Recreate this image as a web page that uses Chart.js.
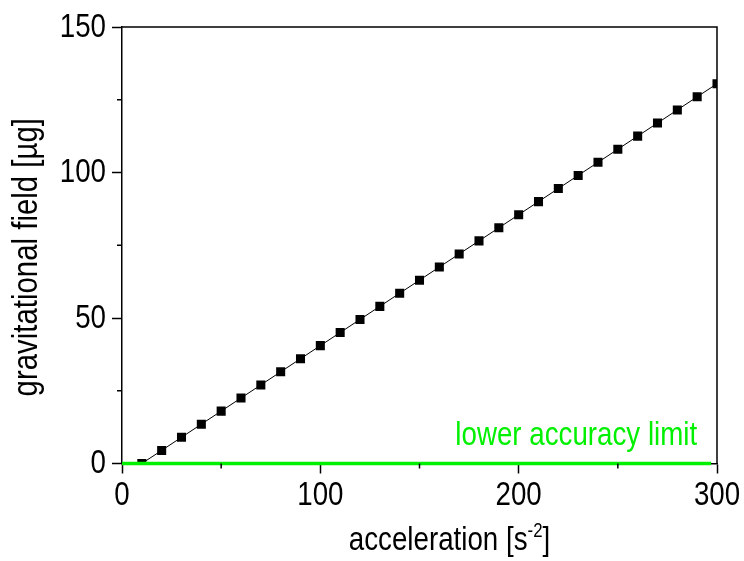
<!DOCTYPE html>
<html>
<head>
<meta charset="utf-8">
<script src="https://cdn.jsdelivr.net/npm/chart.js@4.4.1/dist/chart.umd.min.js"></script>
<style>
  html, body { margin: 0; padding: 0; background: #fff; }
  #wrap { width: 744px; height: 561px; }
</style>
</head>
<body>
<div id="wrap"><canvas id="c" width="744" height="561"></canvas></div>
<script>
// Measured gravitational field versus acceleration
const accel  = [10, 20, 30, 40, 50, 60, 70, 80, 90, 100,
                110, 120, 130, 140, 150, 160, 170, 180, 190, 200,
                210, 220, 230, 240, 250, 260, 270, 280, 290, 300];
const gField = [0, 4.5, 9.0, 13.5, 18.0, 22.5, 27.0, 31.5, 36.0, 40.5,
                45.0, 49.5, 54.0, 58.5, 63.0, 67.5, 72.0, 76.5, 81.0, 85.5,
                90.0, 94.5, 99.0, 103.5, 108.0, 112.5, 117.0, 121.5, 126.0, 130.5];

// Lower accuracy limit (horizontal line)
const limitX = [0, 297];
const limitY = [0, 0];

// Tick values
const xMajor = [0, 100, 200, 300];
const xMinor = [50, 150, 250];
const yMajor = [0, 50, 100, 150];
const yMinor = [25, 75, 125];

const FONT = "'Liberation Sans', Arial, sans-serif";
const NARROW = 0.84;          // horizontal squeeze for a narrow face
const GREEN = '#00f000';

const pointsOf = (xs, ys) => xs.map((x, i) => ({ x: x, y: ys[i] }));

// Draw condensed text: squeeze horizontally around the anchor point
function narrowText(ctx, text, x, y, size, align, color) {
  ctx.save();
  ctx.translate(x, y);
  ctx.scale(NARROW, 1);
  ctx.font = size + 'px ' + FONT;
  ctx.fillStyle = color || '#000';
  ctx.textAlign = align;
  ctx.textBaseline = 'alphabetic';
  ctx.fillText(text, 0, 0);
  ctx.restore();
}
function narrowWidth(ctx, text, size) {
  ctx.save();
  ctx.font = size + 'px ' + FONT;
  const w = ctx.measureText(text).width * NARROW;
  ctx.restore();
  return w;
}

const extras = {
  id: 'extras',
  afterDraw(chart) {
    const { ctx, chartArea: a, scales: { x, y } } = chart;
    ctx.save();
    ctx.strokeStyle = '#000';
    ctx.lineWidth = 1.5;
    // top and right frame
    ctx.beginPath();
    ctx.moveTo(a.left, a.top);
    ctx.lineTo(a.right, a.top);
    ctx.lineTo(a.right, a.bottom);
    ctx.stroke();
    // minor ticks
    ctx.beginPath();
    xMinor.forEach(v => {
      const px = x.getPixelForValue(v);
      ctx.moveTo(px, a.bottom);
      ctx.lineTo(px, a.bottom + 5);
    });
    yMinor.forEach(v => {
      const py = y.getPixelForValue(v);
      ctx.moveTo(a.left, py);
      ctx.lineTo(a.left - 5, py);
    });
    ctx.stroke();
    ctx.restore();

    const size = 33;
    // tick labels
    xMajor.forEach(v => narrowText(ctx, String(v), x.getPixelForValue(v), a.bottom + 41, size, 'center'));
    yMajor.forEach(v => narrowText(ctx, String(v), a.left - 16, y.getPixelForValue(v) + 9.5, size, 'right'));

    // x title with superscript
    const t1 = 'acceleration [s', t2 = '-2', t3 = ']';
    const sup = 20;
    const w1 = narrowWidth(ctx, t1, size);
    const w2 = narrowWidth(ctx, t2, sup);
    const w3 = narrowWidth(ctx, t3, size);
    const cx = (a.left + a.right) / 2 + 30;
    const base = 550;
    const sx = cx - (w1 + w2 + w3) / 2;
    narrowText(ctx, t1, sx, base, size, 'left');
    narrowText(ctx, t2, sx + w1, base - 13, sup, 'left');
    narrowText(ctx, t3, sx + w1 + w2, base, size, 'left');

    // y title
    ctx.save();
    ctx.translate(37, (a.top + a.bottom) / 2 + 12);
    ctx.rotate(-Math.PI / 2);
    narrowText(ctx, 'gravitational field [\u00b5g]', 0, 0, 35, 'center');
    ctx.restore();

    // limit label
    narrowText(ctx, 'lower accuracy limit', x.getPixelForValue(290), y.getPixelForValue(0) - 18.5, size, 'right', GREEN);
  }
};

new Chart(document.getElementById('c'), {
  type: 'line',
  data: {
    datasets: [
      {
        label: 'lower accuracy limit',
        data: pointsOf(limitX, limitY),
        borderColor: GREEN,
        borderWidth: 3.5,
        pointRadius: 0,
        clip: false,
        fill: false
      },
      {
        label: 'gravitational field',
        data: pointsOf(accel, gField),
        borderColor: '#000',
        borderWidth: 1,
        pointStyle: 'rect',
        pointRadius: 6.4,
        pointBackgroundColor: '#000',
        pointBorderColor: '#000',
        pointBorderWidth: 0,
        fill: false,
        tension: 0
      }
    ]
  },
  options: {
    responsive: false,
    animation: false,
    devicePixelRatio: 1,
    layout: { padding: { top: 27, right: 27, left: 0, bottom: 0 } },
    plugins: { legend: { display: false }, tooltip: { enabled: false } },
    scales: {
      x: {
        type: 'linear',
        min: 0, max: 300,
        afterBuildTicks: s => { s.ticks = xMajor.map(v => ({ value: v })); },
        afterFit: s => { s.height = 97.5; },
        ticks: { display: false },
        grid: { drawOnChartArea: false, drawTicks: true, tickLength: 10, tickColor: '#000', tickWidth: 1.5 },
        border: { color: '#000', width: 1.5 }
      },
      y: {
        type: 'linear',
        min: 0, max: 150,
        afterBuildTicks: s => { s.ticks = yMajor.map(v => ({ value: v })); },
        afterFit: s => { s.width = 122; },
        ticks: { display: false },
        grid: { drawOnChartArea: false, drawTicks: true, tickLength: 10, tickColor: '#000', tickWidth: 1.5 },
        border: { color: '#000', width: 1.5 }
      }
    }
  },
  plugins: [extras]
});
</script>
</body>
</html>
